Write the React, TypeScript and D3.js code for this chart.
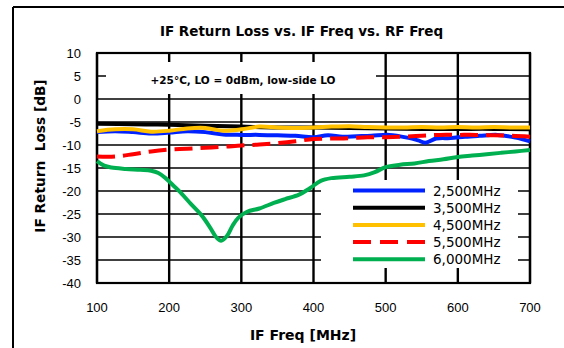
import React from "react";
import * as d3 from "d3";

const xTicks = [100, 200, 300, 400, 500, 600, 700];
const yTicks = [10, 5, 0, -5, -10, -15, -20, -25, -30, -35, -40];

const seriesNames = ["2,500MHz", "3,500MHz", "4,500MHz", "5,500MHz", "6,000MHz"];
const seriesColors = ["#0022ff", "#000000", "#ffc000", "#ff0000", "#00b050"];

const blueF = [100, 125, 150, 175, 200, 225, 250, 275, 300, 325, 350, 375, 400, 420, 440, 460, 480, 505, 530, 545, 555, 570, 590, 610, 630, 655, 680, 700];
const blueV = [-7.2, -7.0, -7.2, -7.5, -7.3, -7.0, -7.2, -7.7, -7.8, -7.8, -7.9, -8.0, -8.3, -7.9, -8.2, -8.1, -8.0, -7.8, -8.4, -9.0, -9.5, -8.6, -8.5, -8.2, -8.0, -7.8, -8.4, -9.2];

const blackF = [100, 150, 200, 250, 300, 350, 400, 450, 500, 550, 600, 650, 700];
const blackV = [-5.4, -5.5, -5.6, -5.8, -6.0, -6.2, -6.2, -6.3, -6.4, -6.5, -6.5, -6.5, -6.6];

const yellowF = [100, 125, 150, 175, 200, 225, 250, 275, 300, 325, 350, 375, 400, 425, 450, 475, 500, 525, 550, 575, 600, 625, 650, 675, 700];
const yellowV = [-7.0, -6.6, -6.6, -7.1, -6.9, -6.4, -6.3, -6.9, -6.6, -6.0, -6.2, -6.3, -6.2, -6.0, -5.9, -6.1, -6.2, -6.2, -6.1, -6.2, -6.1, -6.2, -6.1, -6.2, -6.2];

const redF = [100, 125, 150, 175, 200, 225, 250, 275, 300, 325, 350, 375, 400, 425, 450, 475, 500, 525, 550, 575, 600, 625, 650, 675, 700];
const redV = [-12.5, -12.5, -12.0, -11.4, -11.0, -10.8, -10.6, -10.4, -10.1, -9.9, -9.6, -9.2, -8.7, -8.6, -8.5, -8.3, -8.3, -8.2, -8.0, -7.8, -7.8, -7.8, -7.9, -8.0, -8.2];

const greenF = [100, 110, 120, 140, 160, 175, 185, 195, 205, 215, 230, 245, 257, 265, 272, 280, 288, 296, 308, 325, 345, 360, 380, 395, 410, 425, 450, 470, 485, 500, 520, 540, 560, 580, 600, 620, 640, 660, 680, 700];
const greenV = [-13.5, -14.5, -14.9, -15.2, -15.4, -15.6, -16.1, -17.2, -18.7, -20.2, -22.8, -25.3, -28.0, -30.0, -30.8, -29.8, -27.5, -25.8, -24.5, -23.8, -22.6, -21.8, -20.8, -19.4, -17.8, -17.2, -16.9, -16.6, -15.9, -14.8, -14.3, -14.0, -13.5, -13.1, -12.6, -12.3, -12.0, -11.7, -11.4, -11.1];

const seriesF = [blueF, blackF, yellowF, redF, greenF];
const seriesV = [blueV, blackV, yellowV, redV, greenV];

export default function App() {
  const W = 564, H = 348;
  const left = 97, right = 530, top = 53, bottom = 283;
  const x = d3.scaleLinear().domain([100, 700]).range([left, right]);
  const y = d3.scaleLinear().domain([-40, 10]).range([bottom, top]);
  const line = d3
    .line<[number, number]>()
    .x((d) => x(d[0]))
    .y((d) => y(d[1]))
    .curve(d3.curveCatmullRom.alpha(0.5));

  const legendX0 = 353, legendX1 = 425, legendTextX = 433;
  const legendY0 = 190.5, legendDY = 17.2;

  return (
    <svg width={W} height={H} style={{ position: "absolute", left: 0, top: 0, background: "#fff" }}>
      <rect x={0} y={0} width={W} height={H} fill="#fff" />
      {/* outer frame */}
      <line x1={13} y1={7} x2={W} y2={7} stroke="#000" strokeWidth={2} />
      <line x1={13} y1={7} x2={13} y2={H} stroke="#000" strokeWidth={2} />

      {/* title */}
      <text x={301.5} y={36} textAnchor="middle" fontFamily="DejaVu Sans" fontWeight="bold" fontSize={13.5} fill="#000">
        IF Return Loss vs. IF Freq vs. RF Freq
      </text>

      {/* horizontal gridlines */}
      {yTicks.map((t) => (
        <line key={"h" + t} x1={left} x2={right} y1={y(t)} y2={y(t)} stroke="#000" strokeWidth={1.6} />
      ))}
      {/* vertical gridlines */}
      {xTicks.map((t) => (
        <line key={"v" + t} x1={x(t)} x2={x(t)} y1={top} y2={bottom} stroke="#000" strokeWidth={2.4} />
      ))}
      {/* plot border */}
      <rect x={left} y={top} width={right - left} height={bottom - top} fill="none" stroke="#000" strokeWidth={2.2} />

      {/* annotation box */}
      <rect x={106} y={62} width={270} height={32} fill="#fff" />
      <text x={243} y={84} textAnchor="middle" fontFamily="DejaVu Sans" fontWeight="bold" fontSize={10.5} fill="#000">
        +25°C, LO = 0dBm, low-side LO
      </text>

      {/* legend box */}
      <rect x={321} y={180} width={197} height={88} fill="#fff" />

      {/* series */}
      {seriesF.map((fs, i) => {
        const pts = fs.map((f, j) => [f, seriesV[i][j]] as [number, number]);
        return (
          <path
            key={"s" + i}
            d={line(pts) || ""}
            fill="none"
            stroke={seriesColors[i]}
            strokeWidth={4}
            strokeDasharray={i === 3 ? "18 8" : undefined}
            strokeLinejoin="round"
          />
        );
      })}

      {/* legend entries */}
      {seriesNames.map((n, i) => {
        const ly = legendY0 + i * legendDY;
        return (
          <g key={"l" + i}>
            <line x1={legendX0} x2={legendX1} y1={ly} y2={ly} stroke={seriesColors[i]} strokeWidth={4}
              strokeDasharray={i === 3 ? "18 9" : undefined} />
            <text x={legendTextX} y={ly} dominantBaseline="central" fontFamily="DejaVu Sans" fontSize={13.5} fill="#000">
              {n}
            </text>
          </g>
        );
      })}

      {/* y tick labels */}
      {yTicks.map((t) => (
        <text key={"yt" + t} x={81} y={y(t)} textAnchor="end" dominantBaseline="central" fontFamily="Liberation Sans" fontSize={13} fill="#000">
          {t}
        </text>
      ))}
      {/* x tick labels */}
      {xTicks.map((t) => (
        <text key={"xt" + t} x={x(t)} y={312} textAnchor="middle" fontFamily="Liberation Sans" fontSize={13} fill="#000">
          {t}
        </text>
      ))}

      {/* axis titles */}
      <text x={303} y={340} textAnchor="middle" fontFamily="DejaVu Sans" fontWeight="bold" fontSize={14} fill="#000">
        IF Freq [MHz]
      </text>
      <text transform="translate(45,156) rotate(-90)" textAnchor="middle" fontFamily="DejaVu Sans" fontWeight="bold" fontSize={13.7} fill="#000" style={{ whiteSpace: "pre" }}>
        {"IF Return  Loss [dB]"}
      </text>
    </svg>
  );
}
